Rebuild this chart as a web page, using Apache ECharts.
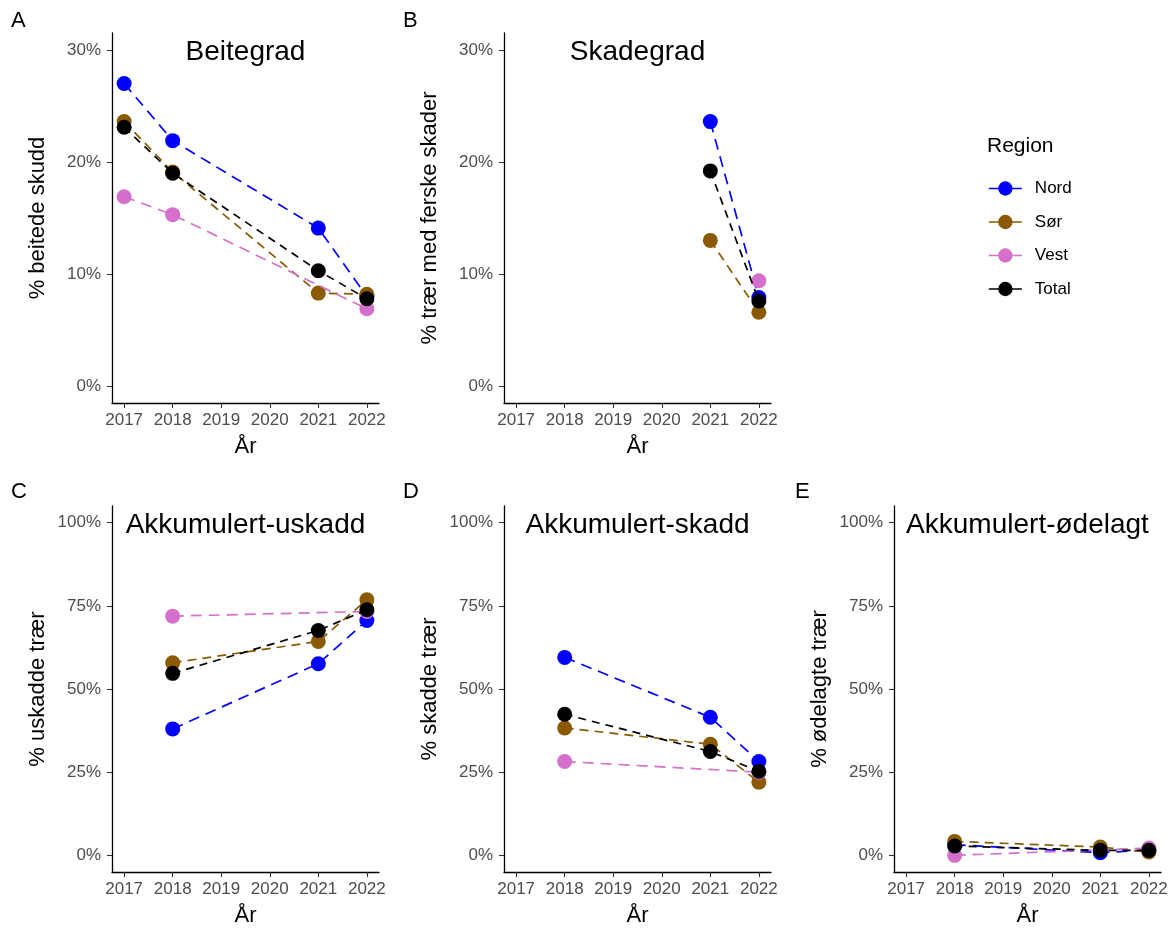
<!DOCTYPE html>
<html>
<head>
<meta charset="utf-8">
<script src="https://cdn.jsdelivr.net/npm/echarts@6/dist/echarts.min.js"></script>
<style>
html,body{margin:0;padding:0;background:#fff;}
#chart{width:1175px;height:928px;}
</style>
</head>
<body>
<div id="chart"></div>
<script>
// ---- Data ----
const regions = ['Nord', 'Sør', 'Vest', 'Total'];
const xTicks = [2017, 2018, 2019, 2020, 2021, 2022];
const yTicksTop = [0, 10, 20, 30];
const yTicksBottom = [0, 25, 50, 75, 100];

// A: Beitegrad
const yearsA = [2017, 2018, 2021, 2022];
const beitegradNord  = [27.0, 21.9, 14.1, 8.0];
const beitegradSor   = [23.6, 19.1, 8.3, 8.2];
const beitegradVest  = [16.9, 15.3, null, 6.9];
const beitegradTotal = [23.1, 19.0, 10.3, 7.8];

// B: Skadegrad
const yearsB = [2021, 2022];
const skadegradNord  = [23.6, 7.9];
const skadegradSor   = [13.0, 6.6];
const skadegradVest  = [null, 9.4];
const skadegradTotal = [19.2, 7.6];

// C, D, E
const yearsCDE = [2018, 2021, 2022];
const uskaddNord  = [38.0, 57.6, 70.6];
const uskaddSor   = [57.9, 64.3, 76.8];
const uskaddVest  = [71.9, null, 73.3];
const uskaddTotal = [54.7, 67.6, 73.8];

const skaddNord  = [59.5, 41.5, 28.2];
const skaddSor   = [38.3, 33.4, 22.0];
const skaddVest  = [28.2, null, 25.0];
const skaddTotal = [42.4, 31.2, 25.3];

const odelagtNord  = [3.2, 0.8, 1.6];
const odelagtSor   = [4.2, 2.5, 1.0];
const odelagtVest  = [0.0, null, 2.2];
const odelagtTotal = [2.8, 1.5, 1.5];

const panelTitles = ['Beitegrad', 'Skadegrad', 'Akkumulert-uskadd', 'Akkumulert-skadd', 'Akkumulert-ødelagt'];
const panelLetters = ['A', 'B', 'C', 'D', 'E'];
const yNames = ['% beitede skudd', '% trær med ferske skader', '% uskadde trær', '% skadde trær', '% ødelagte trær'];
const xName = 'År';

// ---- Styles ----
const colors = {Nord: '#0000FF', 'Sør': '#8B5A00', Vest: '#D46FCB', Total: '#000000'};
const dashes = {Nord: [11, 7], 'Sør': [9, 6], Vest: [11, 7], Total: [8, 6]};
const FONT = '"Liberation Sans", Arial, sans-serif';

const panels = [
  {years: yearsA, vals: [beitegradNord, beitegradSor, beitegradVest, beitegradTotal], grid: {left: 112, top: 33, width: 267, height: 370}, yMin: -1.5, yMax: 31.5, yTicks: yTicksTop},
  {years: yearsB, vals: [skadegradNord, skadegradSor, skadegradVest, skadegradTotal], grid: {left: 504, top: 33, width: 267, height: 370}, yMin: -1.5, yMax: 31.5, yTicks: yTicksTop},
  {years: yearsCDE, vals: [uskaddNord, uskaddSor, uskaddVest, uskaddTotal], grid: {left: 112, top: 506, width: 267, height: 371}, yMin: -5, yMax: 105, yTicks: yTicksBottom},
  {years: yearsCDE, vals: [skaddNord, skaddSor, skaddVest, skaddTotal], grid: {left: 504, top: 506, width: 267, height: 371}, yMin: -5, yMax: 105, yTicks: yTicksBottom},
  {years: yearsCDE, vals: [odelagtNord, odelagtSor, odelagtVest, odelagtTotal], grid: {left: 894, top: 506, width: 267, height: 371}, yMin: -5, yMax: 105, yTicks: yTicksBottom}
];

const grids = [], xAxes = [], yAxes = [], series = [], titles = [];
const letterPos = [[11, 10], [403, 10], [11, 481], [403, 481], [795, 481]];

panels.forEach((p, i) => {
  grids.push(Object.assign({containLabel: false}, p.grid));
  xAxes.push({
    type: 'value', gridIndex: i, min: 2016.75, max: 2022.25,
    name: xName, nameLocation: 'middle', nameGap: 33,
    nameTextStyle: {fontSize: 22, color: '#000', fontFamily: FONT},
    axisLine: {show: true, onZero: false, lineStyle: {color: '#000', width: 1.3}},
    axisTick: {show: true, length: 5, customValues: xTicks, lineStyle: {color: '#333', width: 1.1}},
    axisLabel: {customValues: xTicks, fontSize: 17, color: '#4D4D4D', margin: 9, fontFamily: FONT, formatter: v => String(v)},
    splitLine: {show: false}
  });
  yAxes.push({
    type: 'value', gridIndex: i, min: p.yMin, max: p.yMax,
    name: yNames[i], nameLocation: 'middle', nameGap: 63, nameRotate: 90,
    nameTextStyle: {fontSize: 22, color: '#000', fontFamily: FONT},
    axisLine: {show: true, onZero: false, lineStyle: {color: '#000', width: 1.3}},
    axisTick: {show: true, length: 5, customValues: p.yTicks, lineStyle: {color: '#333', width: 1.1}},
    axisLabel: {customValues: p.yTicks, fontSize: 17, color: '#4D4D4D', margin: 11, fontFamily: FONT, formatter: v => v + '%'},
    splitLine: {show: false}
  });
  regions.forEach((r, k) => {
    const data = [];
    p.years.forEach((yr, j) => { const v = p.vals[k][j]; if (v !== null) data.push([yr, v]); });
    series.push({
      type: 'line', name: r, xAxisIndex: i, yAxisIndex: i, data: data,
      symbol: 'circle', symbolSize: 15, showSymbol: true,
      itemStyle: {color: colors[r]},
      lineStyle: {color: colors[r], width: 1.7, type: dashes[r]},
      emphasis: {disabled: true}, z: 2 + k
    });
  });
  const cx = p.grid.left + p.grid.width / 2;
  titles.push({
    text: panelTitles[i], left: cx, top: (i < 2 ? 38 : 511), textAlign: 'center', padding: 0,
    textStyle: {fontSize: 28, fontWeight: 'normal', color: '#000', fontFamily: FONT}
  });
  titles.push({
    text: panelLetters[i], left: letterPos[i][0], top: letterPos[i][1], padding: 0,
    textStyle: {fontSize: 22, fontWeight: 'normal', color: '#000', fontFamily: FONT}
  });
});

titles.push({
  text: 'Region', left: 987, top: 136, padding: 0,
  textStyle: {fontSize: 21, fontWeight: 'normal', color: '#000', fontFamily: FONT}
});

const option = {
  animation: false,
  backgroundColor: '#fff',
  title: titles,
  grid: grids,
  xAxis: xAxes,
  yAxis: yAxes,
  legend: {
    data: regions, orient: 'vertical', left: 983, top: 175,
    itemWidth: 33, itemHeight: 18, itemGap: 16.5,
    lineStyle: {type: 'solid', width: 1.7},
    textStyle: {fontSize: 17, color: '#000', fontFamily: FONT, padding: [0, 0, 0, 8]},
    selectedMode: false
  },
  series: series
};

const chart = echarts.init(document.getElementById('chart'), null, {renderer: 'canvas'});
chart.setOption(option);
</script>
</body>
</html>
